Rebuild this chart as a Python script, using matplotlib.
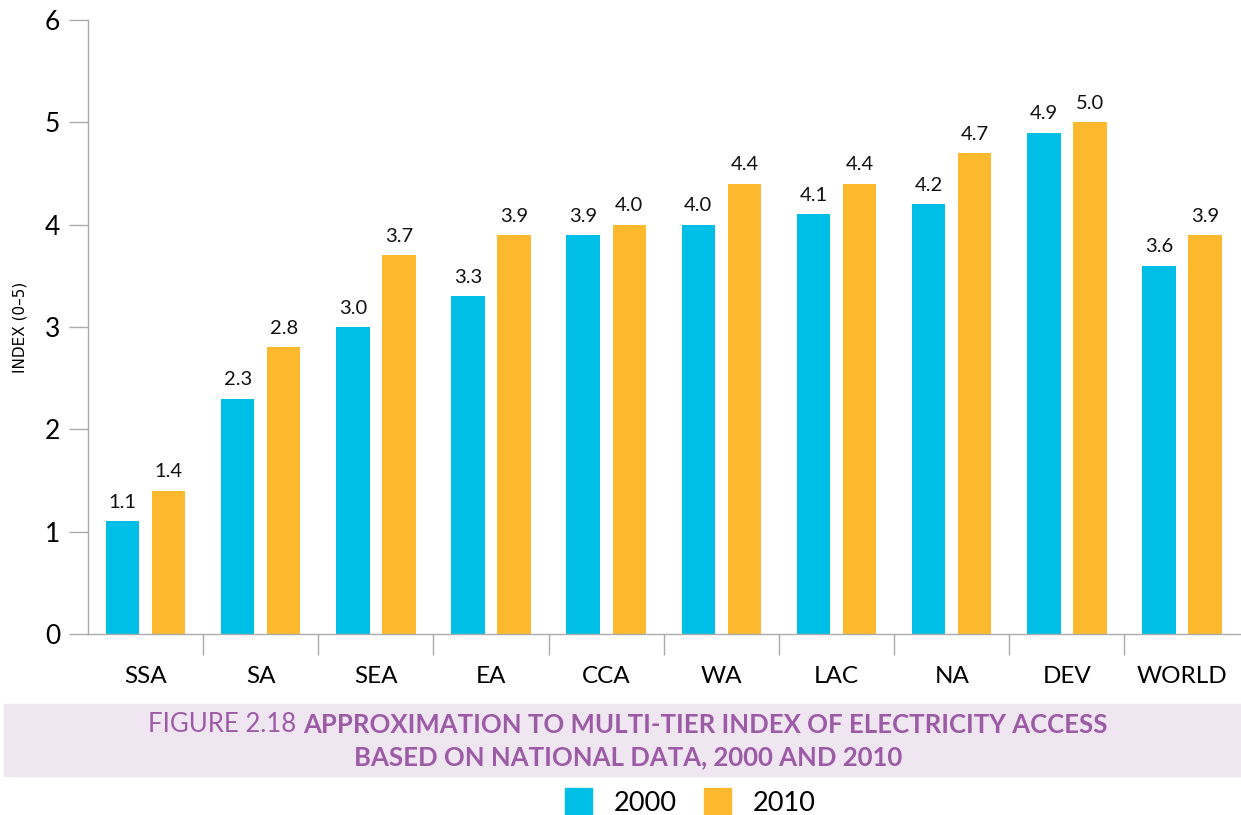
import matplotlib
matplotlib.use("Agg")
import matplotlib.pyplot as plt
from matplotlib.patches import Patch, Rectangle
import numpy as np

plt.rcParams['font.family'] = ['Lato', 'DejaVu Sans']

regions = ["SSA", "SA", "SEA", "EA", "CCA", "WA", "LAC", "NA", "DEV", "WORLD"]
val_2000 = [1.1, 2.3, 3.0, 3.3, 3.9, 4.0, 4.1, 4.2, 4.9, 3.6]
val_2010 = [1.4, 2.8, 3.7, 3.9, 4.0, 4.4, 4.4, 4.7, 5.0, 3.9]
years = ["2000", "2010"]

blue = "#00BFE6"
orange = "#FDB92E"
grey = "#ABABAB"
purple = "#9B5BA5"

fig = plt.figure(figsize=(12.41, 8.15), dpi=100)
ax = fig.add_axes([0.0709, 0.2221, 0.928, 0.7534])

x = np.arange(len(regions))
w = 0.29
b1 = ax.bar(x - 0.2, val_2000, w, color=blue)
b2 = ax.bar(x + 0.2, val_2010, w, color=orange)

for bars, vals in ((b1, val_2000), (b2, val_2010)):
    for r, v in zip(bars, vals):
        ax.text(r.get_x() + r.get_width() / 2, v + 0.1, f"{v:.1f}",
                ha="center", va="bottom", fontsize=14.5, color="#111111")

ax.set_xlim(-0.5, len(regions) - 0.5)
ax.set_ylim(0, 6)
ax.set_yticks(range(0, 7))
ax.tick_params(axis="y", length=14, width=1, color=grey, labelsize=19, pad=6)

# category separators as major ticks, names as minor
ax.set_xticks(np.arange(0.5, len(regions) - 0.5, 1))
ax.set_xticklabels([])
ax.tick_params(axis="x", which="major", length=15, width=1, color=grey, direction="out")
ax.set_xticks(x, minor=True)
ax.set_xticklabels(regions, minor=True, fontsize=17.5)
ax.tick_params(axis="x", which="minor", length=0, pad=23)

for s in ("top", "right"):
    ax.spines[s].set_visible(False)
for s in ("left", "bottom"):
    ax.spines[s].set_color(grey)
    ax.spines[s].set_linewidth(1)

fig.text(20 / 1241, 1 - 327 / 815, "INDEX (0–5)", rotation=90, ha="center",
         va="center", fontsize=11, family="DejaVu Sans")

# caption band
fig.patches.append(Rectangle((4 / 1241, 1 - 776 / 815), 1237 / 1241, 72 / 815,
                             transform=fig.transFigure, color="#EFE6F2", zorder=0))

fig.canvas.draw()
renderer = fig.canvas.get_renderer()
cx = 628 / 1241
lines = [("FIGURE 2.18 ", "APPROXIMATION TO MULTI-TIER INDEX OF ELECTRICITY ACCESS", 725),
         ("", "BASED ON NATIONAL DATA, 2000 AND 2010", 757)]
for reg, bold, ypx in lines:
    y = 1 - ypx / 815
    t1 = fig.text(0, y, reg, fontsize=18.5, color=purple, va="center", ha="left")
    t2 = fig.text(0, y, bold, fontsize=18.5, color=purple, va="center", ha="left",
                  fontweight="bold")
    w1 = t1.get_window_extent(renderer).width if reg else 0
    w2 = t2.get_window_extent(renderer).width
    figw = fig.bbox.width
    start = cx - (w1 + w2) / 2 / figw
    t1.set_x(start)
    t2.set_x(start + w1 / figw)

handles = [Patch(color=blue, label=years[0]), Patch(color=orange, label=years[1])]
fig.legend(handles=handles, loc="center", bbox_to_anchor=(690 / 1241, 1 - 802 / 815),
           ncol=2, frameon=False, fontsize=19.5, handlelength=1.0, handleheight=1.2,
           columnspacing=1.0, handletextpad=0.8)

fig.savefig("out.png", dpi=100)
